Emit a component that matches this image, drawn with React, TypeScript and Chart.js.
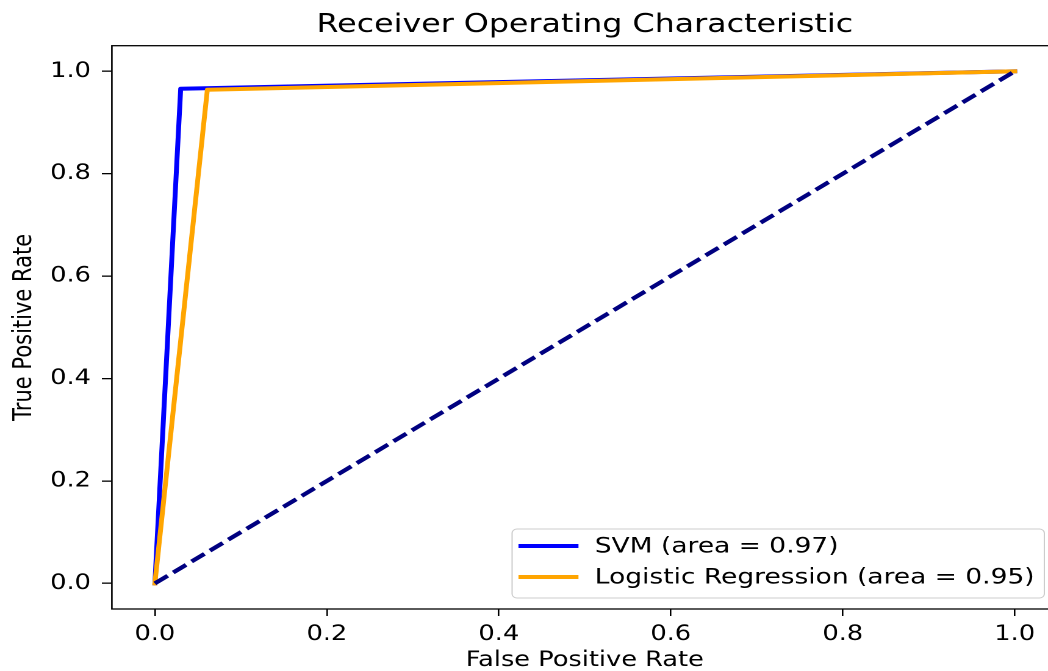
import React, { useEffect, useRef } from "react";
import { Chart, registerables } from "chart.js";

Chart.register(...registerables);

// ---- data ----
const xTickValues = [0, 0.2, 0.4, 0.6, 0.8, 1.0];
const yTickValues = [0, 0.2, 0.4, 0.6, 0.8, 1.0];
const svmFpr = [0, 0.03, 1];
const svmTpr = [0, 0.966, 1];
const lrFpr = [0, 0.061, 1];
const lrTpr = [0, 0.964, 1];
const chanceFpr = [0, 1];
const chanceTpr = [0, 1];
const seriesLabels = ["SVM (area = 0.97)", "Logistic Regression (area = 0.95)"];
const seriesColors = ["#0000ff", "#ffa500"];
const chanceColor = "#000080";
const titleText = "Receiver Operating Characteristic";
const xTitle = "False Positive Rate";
const yTitle = "True Positive Rate";

// ---- layout ----
const SX = 1.22;
const W = 867;
const H = 671;
const FONT = "'DejaVu Sans', sans-serif";
const TICK_SIZE = 21;
const LEGEND_SIZE = 21.7;
const LINE_W = 4;

const framePlugin = {
  id: "frame",
  afterDatasetsDraw(chart: any) {
    const { ctx, chartArea: a } = chart;
    ctx.save();
    ctx.strokeStyle = "#000";
    ctx.lineWidth = 1.3;
    ctx.strokeRect(a.left, a.top, a.right - a.left, a.bottom - a.top);
    ctx.restore();
  },
};

const legendPlugin = {
  id: "insideLegend",
  afterDraw(chart: any) {
    const { ctx, chartArea: a } = chart;
    const items = chart.data.datasets.filter((d: any) => d.label);
    ctx.save();
    ctx.font = `${LEGEND_SIZE}px ${FONT}`;
    const textW = Math.max(...items.map((d: any) => ctx.measureText(d.label).width));
    const padL = 5.2;
    const handle = 49.2;
    const gap = 13.4;
    const padR = 8;
    const boxW = padL + handle + gap + textW + padR;
    const rowH = 31;
    const boxH = 69;
    const right = a.right - 11;
    const bottom = a.bottom - 11;
    const left = right - boxW;
    const top = bottom - boxH;
    const r = 4;
    ctx.beginPath();
    ctx.moveTo(left + r, top);
    ctx.lineTo(right - r, top);
    ctx.arcTo(right, top, right, top + r, r);
    ctx.lineTo(right, bottom - r);
    ctx.arcTo(right, bottom, right - r, bottom, r);
    ctx.lineTo(left + r, bottom);
    ctx.arcTo(left, bottom, left, bottom - r, r);
    ctx.lineTo(left, top + r);
    ctx.arcTo(left, top, left + r, top, r);
    ctx.closePath();
    ctx.fillStyle = "rgba(255,255,255,0.8)";
    ctx.fill();
    ctx.strokeStyle = "#cccccc";
    ctx.lineWidth = 1;
    ctx.stroke();
    items.forEach((d: any, i: number) => {
      const y = top + 17 + i * rowH;
      ctx.beginPath();
      ctx.strokeStyle = d.borderColor;
      ctx.lineWidth = d.borderWidth;
      ctx.moveTo(left + padL, y);
      ctx.lineTo(left + padL + handle, y);
      ctx.stroke();
      ctx.fillStyle = "#000";
      ctx.textBaseline = "middle";
      ctx.textAlign = "left";
      ctx.fillText(d.label, left + padL + handle + gap, y + 1);
    });
    ctx.restore();
  },
};

export default function App() {
  const ref = useRef<HTMLCanvasElement>(null);

  useEffect(() => {
    if (!ref.current) return;
    const toPts = (xs: number[], ys: number[]) => xs.map((x, i) => ({ x, y: ys[i] }));
    const tickFont = { family: FONT, size: TICK_SIZE, lineHeight: 1.2 };
    const chart = new Chart(ref.current, {
      type: "line",
      data: {
        datasets: [
          {
            label: seriesLabels[0],
            data: toPts(svmFpr, svmTpr),
            borderColor: seriesColors[0],
            backgroundColor: seriesColors[0],
            borderWidth: LINE_W,
            pointRadius: 0,
            tension: 0,
            fill: false,
            borderJoinStyle: "round",
            borderCapStyle: "square",
            order: 3,
          },
          {
            label: seriesLabels[1],
            data: toPts(lrFpr, lrTpr),
            borderColor: seriesColors[1],
            backgroundColor: seriesColors[1],
            borderWidth: LINE_W,
            pointRadius: 0,
            tension: 0,
            fill: false,
            borderJoinStyle: "round",
            borderCapStyle: "square",
            order: 2,
          },
          {
            label: "",
            data: toPts(chanceFpr, chanceTpr),
            borderColor: chanceColor,
            backgroundColor: chanceColor,
            borderWidth: LINE_W,
            borderDash: [13, 5.6],
            pointRadius: 0,
            tension: 0,
            fill: false,
            order: 1,
          },
        ],
      },
      options: {
        responsive: false,
        devicePixelRatio: 2,
        animation: false,
        layout: { padding: 0 },
        plugins: {
          legend: { display: false },
          tooltip: { enabled: false },
          title: {
            display: true,
            text: titleText,
            color: "#000",
            fullSize: false,
            font: { family: FONT, size: 26, weight: "normal", lineHeight: 1.2 },
            padding: { top: 9.5, bottom: 5 },
          },
        },
        scales: {
          x: {
            type: "linear",
            min: -0.05,
            max: 1.05,
            afterBuildTicks: (s: any) => {
              s.ticks = xTickValues.map((v) => ({ value: v }));
            },
            afterFit: (s: any) => {
              s.height = 62;
            },
            ticks: {
              color: "#000",
              font: tickFont,
              padding: 6,
              maxRotation: 0,
              autoSkip: false,
              callback: (v: any) => Number(v).toFixed(1),
            },
            grid: {
              display: true,
              drawOnChartArea: false,
              drawTicks: true,
              tickLength: 7,
              color: "#000",
              lineWidth: 1.3,
            },
            border: { display: false },
            title: {
              display: true,
              text: xTitle,
              color: "#000",
              font: { family: FONT, size: TICK_SIZE, lineHeight: 1 },
              padding: { top: 0, bottom: 0 },
            },
          },
          y: {
            type: "linear",
            min: -0.05,
            max: 1.05,
            afterBuildTicks: (s: any) => {
              s.ticks = yTickValues.map((v) => ({ value: v }));
            },
            afterFit: (s: any) => {
              s.width = 91.7;
            },
            ticks: {
              color: "#000",
              font: tickFont,
              padding: 9,
              autoSkip: false,
              callback: (v: any) => Number(v).toFixed(1),
            },
            grid: {
              display: true,
              drawOnChartArea: false,
              drawTicks: true,
              tickLength: 8.2,
              color: "#000",
              lineWidth: 1.3,
            },
            border: { display: false },
            title: {
              display: true,
              text: yTitle,
              color: "#000",
              font: { family: FONT, size: TICK_SIZE, lineHeight: 1 },
              padding: { top: 9.5, bottom: 0 },
            },
          },
        },
      },
      plugins: [framePlugin, legendPlugin],
    } as any);
    return () => chart.destroy();
  }, []);

  return (
    <div
      style={{
        position: "fixed",
        left: 0,
        top: 0,
        width: 1048,
        height: 671,
        overflow: "hidden",
        background: "#fff",
      }}
    >
      <div style={{ width: W, height: H, transform: `scaleX(${SX})`, transformOrigin: "0 0" }}>
        <canvas ref={ref} width={W} height={H} style={{ display: "block", width: W, height: H }} />
      </div>
    </div>
  );
}
